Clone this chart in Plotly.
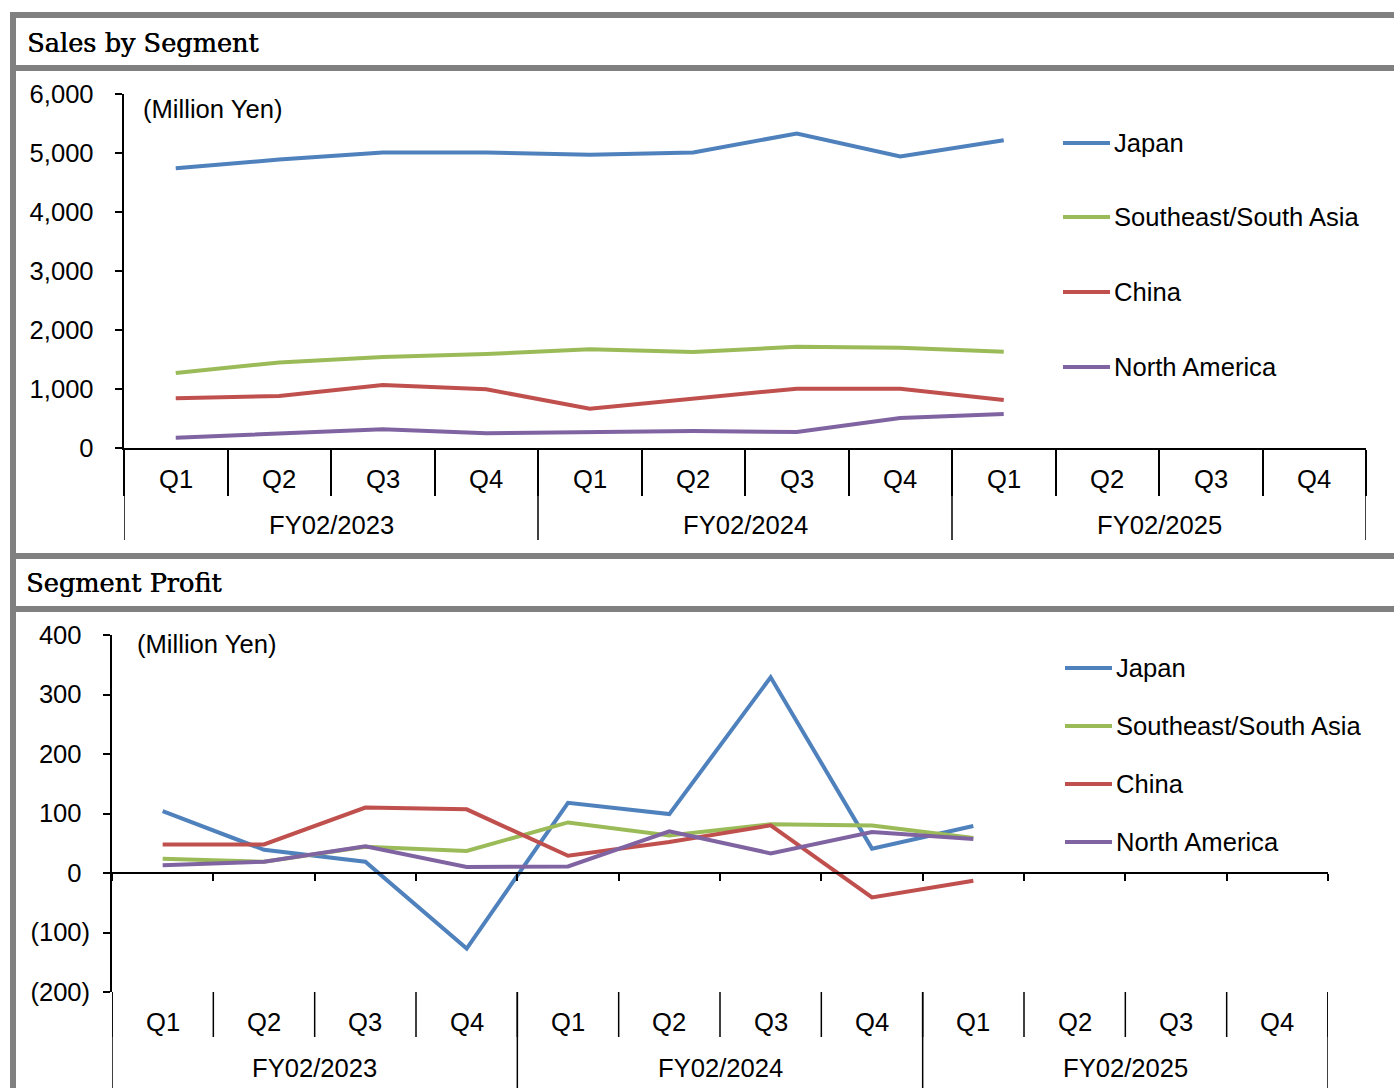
import plotly.graph_objects as go

# ---- data -------------------------------------------------------------
fiscal_years = ["FY02/2023", "FY02/2024", "FY02/2025"]
quarters = ["Q1", "Q2", "Q3", "Q4"]
segments = ["Japan", "Southeast/South Asia", "China", "North America"]

# Sales by segment (million yen), FY02/2023 Q1 .. FY02/2025 Q1
sales_japan = [4740, 4890, 5010, 5010, 4970, 5010, 5330, 4940, 5215]
sales_sea = [1270, 1450, 1542, 1593, 1672, 1627, 1717, 1700, 1633]
sales_china = [842, 881, 1068, 994, 667, 845, 1006, 1006, 814]
sales_na = [175, 250, 316, 249, 270, 288, 270, 508, 576]

# Segment profit (million yen)
profit_japan = [104, 39, 19, -127, 118, 99, 329, 41, 79]
profit_sea = [24, 19, 44, 37, 85, 63, 82, 80, 59]
profit_china = [48, 48, 110, 107, 29, 52, 80, -41, -13]
profit_na = [13, 19, 45, 10, 11, 70, 33, 69, 57]

sales_ticks = [0, 1000, 2000, 3000, 4000, 5000, 6000]
profit_ticks = [-200, -100, 0, 100, 200, 300, 400]

# ---- styling ----------------------------------------------------------
W, H = 1394, 1088
colors = ["#4F81BD", "#9BBB59", "#C0504D", "#8064A2"]
frame_gray = "#808080"
sans = "Liberation Sans, Arial, sans-serif"
serif = "DejaVu Serif, serif"
fs = 25.6


def px(x):
    return x / W


def py(y):
    return 1 - y / H


def acct(v):
    # accounting style: negatives in parentheses, positives padded by the
    # width of a closing parenthesis so the digits line up
    if v < 0:
        return f"({abs(v):,})"
    return f"{v:,}<span style='color:rgba(0,0,0,0)'>)</span>"


n_cat = len(fiscal_years) * len(quarters)
cat_pos = list(range(n_cat))
bounds = [i - 0.5 for i in range(n_cat + 1)]
year_bounds = [j * len(quarters) - 0.5 for j in range(len(fiscal_years) + 1)]

fig = go.Figure()

sales = [sales_japan, sales_sea, sales_china, sales_na]
profit = [profit_japan, profit_sea, profit_china, profit_na]

for name, vals, col in zip(segments, sales, colors):
    fig.add_trace(go.Scatter(
        x=cat_pos[:len(vals)], y=vals, mode="lines", name=name,
        line=dict(color=col, width=4), showlegend=False,
        xaxis="x", yaxis="y", hoverinfo="skip",
    ))

for name, vals, col in zip(segments, profit, colors):
    fig.add_trace(go.Scatter(
        x=cat_pos[:len(vals)], y=vals, mode="lines", name=name,
        line=dict(color=col, width=4), showlegend=False,
        xaxis="x2", yaxis="y2", hoverinfo="skip",
    ))

axis_common = dict(showgrid=False, zeroline=False, showline=True,
                   linecolor="black", linewidth=1.5, tickcolor="black",
                   tickwidth=1.5, fixedrange=True, automargin=False)

fig.update_layout(
    width=W, height=H,
    margin=dict(l=0, r=0, t=0, b=0, pad=0, autoexpand=False),
    showlegend=False,
    paper_bgcolor="white", plot_bgcolor="white",
    font=dict(family=sans, size=fs, color="black"),
    xaxis=dict(domain=[px(124), px(1366)], range=[-0.5, n_cat - 0.5],
               anchor="y", tickmode="array", tickvals=bounds,
               ticks="outside", ticklen=46, showticklabels=False,
               **axis_common),
    yaxis=dict(domain=[py(448), py(94)], range=[0, 6000], anchor="x",
               tickmode="array", tickvals=sales_ticks,
               ticktext=[acct(v) for v in sales_ticks],
               ticks="outside", ticklen=7, ticklabelstandoff=8,
               tickfont=dict(size=fs), **axis_common),
    xaxis2=dict(domain=[px(112), px(1328)], range=[-0.5, n_cat - 0.5],
                anchor="free", position=py(873), tickmode="array",
                tickvals=bounds, ticks="outside", ticklen=7,
                showticklabels=False, **axis_common),
    yaxis2=dict(domain=[py(992), py(635)], range=[-200, 400], anchor="x2",
                tickmode="array", tickvals=profit_ticks,
                ticktext=[acct(v) for v in profit_ticks],
                ticks="outside", ticklen=7, ticklabelstandoff=8,
                tickfont=dict(size=fs), **axis_common),
)

shapes = []
annotations = []

# panel frame
for y0, y1 in [(12, 18), (65, 71), (553, 559), (606, 612)]:
    shapes.append(dict(type="rect", xref="paper", yref="paper",
                       x0=px(10), x1=1, y0=py(y1), y1=py(y0),
                       fillcolor=frame_gray, line=dict(width=0)))
shapes.append(dict(type="rect", xref="paper", yref="paper",
                   x0=px(10), x1=px(16), y0=0, y1=py(12),
                   fillcolor=frame_gray, line=dict(width=0)))

# panel titles
for text, x, y in [("Sales by Segment", 25, 43), ("Segment Profit", 24, 583)]:
    annotations.append(dict(text=text, xref="paper", yref="paper",
                            x=px(x), y=py(y), xanchor="left", yanchor="middle",
                            showarrow=False,
                            font=dict(family=serif, size=fs,
                                      shadow="0.5px 0 0 #000")))

# unit labels
for x, y in [(141, 109), (135, 644)]:
    annotations.append(dict(text="(Million Yen)", xref="paper", yref="paper",
                            x=px(x), y=py(y), xanchor="left", yanchor="middle",
                            showarrow=False))

# two-level category axes: quarters and fiscal years
panels = [
    dict(xref="x", sep_top=448, q_bottom=494, y_bottom=540, q_y=479, y_y=525,
         draw_q=False),
    dict(xref="x2", sep_top=992, q_bottom=1037, y_bottom=1088, q_y=1022,
         y_y=1068, draw_q=True),
]
for p in panels:
    if p["draw_q"]:
        for b in bounds:
            shapes.append(dict(type="line", xref=p["xref"], yref="paper",
                               x0=b, x1=b, y0=py(p["q_bottom"]),
                               y1=py(p["sep_top"]),
                               line=dict(color="black", width=1.5)))
    for b in year_bounds:
        shapes.append(dict(type="line", xref=p["xref"], yref="paper",
                           x0=b, x1=b, y0=py(p["y_bottom"]), y1=py(p["sep_top"]),
                           line=dict(color="black", width=1.5)))
    for j, fy in enumerate(fiscal_years):
        for k, q in enumerate(quarters):
            annotations.append(dict(text=q, xref=p["xref"], yref="paper",
                                    x=j * len(quarters) + k, y=py(p["q_y"]),
                                    xanchor="center", yanchor="middle",
                                    showarrow=False))
        annotations.append(dict(text=fy, xref=p["xref"], yref="paper",
                                x=j * len(quarters) + (len(quarters) - 1) / 2,
                                y=py(p["y_y"]), xanchor="center",
                                yanchor="middle", showarrow=False))

# legends
legend_sets = [
    dict(x0=1063, x1=1110, tx=1112, ys=[143, 217, 292, 367]),
    dict(x0=1065, x1=1112, tx=1114, ys=[668, 726, 784, 842]),
]
for lg in legend_sets:
    for name, col, y in zip(segments, colors, lg["ys"]):
        shapes.append(dict(type="line", xref="paper", yref="paper",
                           x0=px(lg["x0"]), x1=px(lg["x1"]), y0=py(y), y1=py(y),
                           line=dict(color=col, width=4)))
        annotations.append(dict(text=name, xref="paper", yref="paper",
                                x=px(lg["tx"]), y=py(y), xanchor="left",
                                yanchor="middle", showarrow=False))

fig.update_layout(shapes=shapes, annotations=annotations)

fig.write_html("out.html")
